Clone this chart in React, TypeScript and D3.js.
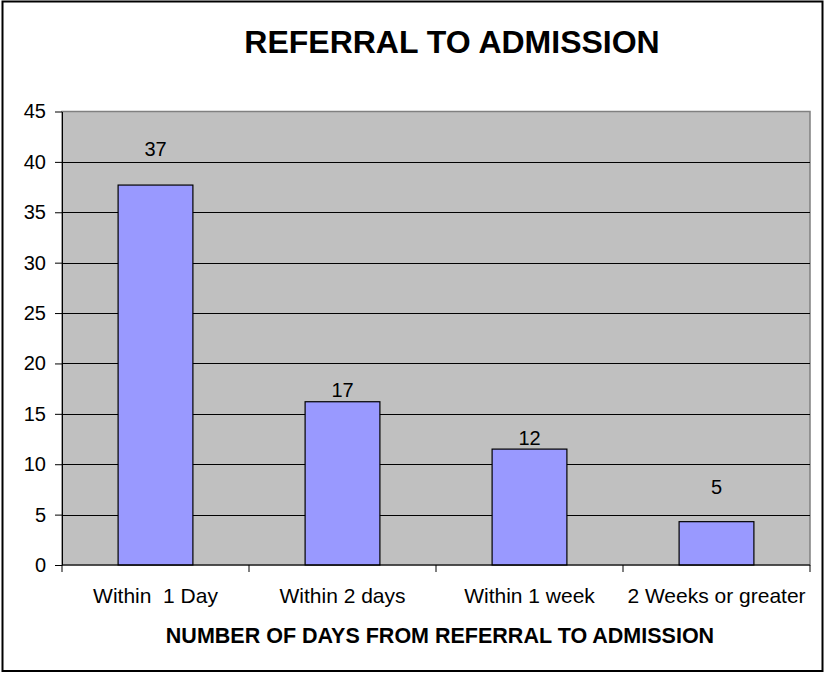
import * as d3 from "d3";
import { useEffect, useRef } from "react";

// chart data
const categories = ["Within  1 Day", "Within 2 days", "Within 1 week", "2 Weeks or greater"];
const barValues = [37.7, 16.2, 11.5, 4.3];
const barLabels = ["37", "17", "12", "5"];
const yTicks = [0, 5, 10, 15, 20, 25, 30, 35, 40, 45];

// labels were dragged by hand in the original, so they sit at different heights above the bars
const labelLift = [29, 5, 4, 28];

const width = 825;
const height = 673;
const marginTop = 111.5;
const marginRight = 15;
const marginBottom = 108;
const marginLeft = 62;
const font = "'Liberation Sans', Arial, sans-serif";

export default function App() {
  const gx = useRef<SVGGElement | null>(null);
  const gy = useRef<SVGGElement | null>(null);

  const x = d3.scaleBand<string>()
    .domain(categories)
    .range([marginLeft, width - marginRight])
    .paddingInner(0.6)
    .paddingOuter(0.3);

  const y = d3.scaleLinear([0, 45], [height - marginBottom, marginTop]);

  const plotBottom = height - marginBottom;
  const plotRight = width - marginRight;
  const step = x.step();

  useEffect(() => {
    if (gy.current) {
      const g = d3.select(gy.current);
      g.selectAll("*").remove();
      g.call(d3.axisLeft(y).tickValues(yTicks).tickSize(7).tickPadding(9).tickSizeOuter(0));
      g.select(".domain").attr("stroke", "#000");
      g.selectAll(".tick line").attr("stroke", "#000");
      g.selectAll(".tick text")
        .attr("font-family", font)
        .attr("font-size", 20)
        .attr("fill", "#000");
    }
    if (gx.current) {
      const g = d3.select(gx.current);
      g.selectAll("*").remove();
      g.append("line")
        .attr("x1", marginLeft).attr("x2", plotRight)
        .attr("y1", 0).attr("y2", 0)
        .attr("stroke", "#000");
      // tick marks at the category boundaries
      const bounds = d3.range(categories.length + 1).map((i) => marginLeft + i * step);
      g.selectAll("line.tk")
        .data(bounds)
        .join("line")
        .attr("class", "tk")
        .attr("x1", (d) => d).attr("x2", (d) => d)
        .attr("y1", 0).attr("y2", 7)
        .attr("stroke", "#000");
      g.selectAll("text.cat")
        .data(categories)
        .join("text")
        .attr("class", "cat")
        .attr("x", (d) => (x(d) ?? 0) + x.bandwidth() / 2)
        .attr("y", 38)
        .attr("text-anchor", "middle")
        .attr("font-family", font)
        .attr("font-size", 21)
        .attr("fill", "#000")
        .style("white-space", "pre")
        .text((d) => d);
    }
  }, []);

  return (
    <svg width={width} height={height} style={{ position: "absolute", left: 0, top: 0, display: "block" }}>
      <rect x={0} y={0} width={width} height={height} fill="#fff" />
      <rect x={2.5} y={1.5} width={820} height={669.5} fill="none" stroke="#000" strokeWidth={2} />

      {/* plot area */}
      <rect
        x={marginLeft}
        y={marginTop}
        width={plotRight - marginLeft}
        height={plotBottom - marginTop}
        fill="#C0C0C0"
        stroke="#808080"
        strokeWidth={1.5}
      />

      {/* gridlines */}
      <g stroke="#000" strokeWidth={1}>
        {yTicks.filter((t) => t > 0 && t < 45).map((t) => (
          <line key={t} x1={marginLeft} x2={plotRight} y1={Math.round(y(t)) + 0.5} y2={Math.round(y(t)) + 0.5} />
        ))}
      </g>

      {/* bars */}
      <g fill="#9999FF" stroke="#000" strokeWidth={1.2}>
        {categories.map((c, i) => (
          <rect key={c} x={x(c)} y={y(barValues[i])} width={x.bandwidth()} height={plotBottom - y(barValues[i])} />
        ))}
      </g>

      {/* value labels */}
      <g fontFamily={font} fontSize={20} textAnchor="middle" fill="#000">
        {categories.map((c, i) => (
          <text key={c} x={(x(c) ?? 0) + x.bandwidth() / 2} y={y(barValues[i]) - labelLift[i]}>
            {barLabels[i]}
          </text>
        ))}
      </g>

      <g ref={gy} transform={`translate(${marginLeft},0)`} />
      <g ref={gx} transform={`translate(0,${plotBottom})`} />

      <text x={452} y={53} textAnchor="middle" fontFamily={font} fontSize={32} fontWeight="bold" fill="#000">
        REFERRAL TO ADMISSION
      </text>
      <text x={440} y={643} textAnchor="middle" fontFamily={font} fontSize={21.5} fontWeight="bold" fill="#000">
        NUMBER OF DAYS FROM REFERRAL TO ADMISSION
      </text>
    </svg>
  );
}
